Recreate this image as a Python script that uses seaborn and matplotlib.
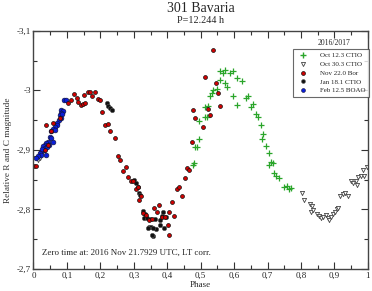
import matplotlib
matplotlib.use("Agg")
import matplotlib.pyplot as plt
from matplotlib.lines import Line2D
from matplotlib.ticker import FuncFormatter, MultipleLocator
import seaborn as sns
import pandas as pd

# phase / relative magnitude
oct12_phase = [0.476, 0.481, 0.483, 0.490, 0.496, 0.496, 0.513, 0.518, 0.513, 0.521,
               0.528, 0.533, 0.538, 0.548, 0.558, 0.558, 0.566, 0.573, 0.573, 0.580,
               0.588, 0.596, 0.596, 0.610, 0.610, 0.625, 0.635, 0.642, 0.649, 0.657,
               0.665, 0.672, 0.681, 0.687, 0.682, 0.695, 0.703, 0.710, 0.717, 0.705,
               0.719, 0.726, 0.734, 0.750, 0.758, 0.764, 0.771]
oct12_mag = [-2.875, -2.878, -2.905, -2.905, -2.918, -2.949, -2.972, -2.955, -2.956, -2.973,
             -2.990, -2.996, -3.000, -3.002, -3.018, -3.032, -3.030, -3.034, -3.012, -3.005,
             -3.029, -3.032, -2.990, -3.020, -2.976, -3.015, -2.987, -2.990, -2.972, -2.977,
             -2.960, -2.955, -2.942, -2.927, -2.918, -2.906, -2.895, -2.879, -2.878, -2.874,
             -2.861, -2.856, -2.852, -2.838, -2.840, -2.834, -2.836]

oct30_phase = [0.008, 0.013, 0.019, 0.802, 0.810, 0.827, 0.832, 0.829, 0.836, 0.847,
               0.854, 0.860, 0.865, 0.874, 0.880, 0.884, 0.889, 0.896, 0.901, 0.908,
               0.911, 0.918, 0.926, 0.931, 0.941, 0.949, 0.956, 0.964, 0.966, 0.971,
               0.978, 0.988, 0.986, 0.996]
oct30_mag = [-2.887, -2.883, -2.887, -2.828, -2.815, -2.809, -2.805, -2.796, -2.799, -2.792,
             -2.789, -2.785, -2.788, -2.790, -2.785, -2.782, -2.788, -2.792, -2.796, -2.800,
             -2.802, -2.822, -2.826, -2.827, -2.823, -2.847, -2.844, -2.847, -2.841, -2.855,
             -2.856, -2.856, -2.866, -2.871]

nov22_phase = [0.002, 0.007, 0.036, 0.044, 0.034, 0.052, 0.059, 0.078, 0.104, 0.112,
               0.122, 0.129, 0.134, 0.142, 0.149, 0.154, 0.152, 0.162, 0.169, 0.176,
               0.184, 0.192, 0.199, 0.206, 0.214, 0.222, 0.230, 0.244, 0.252, 0.260,
               0.276, 0.268, 0.283, 0.291, 0.298, 0.306, 0.313, 0.321, 0.315, 0.328,
               0.336, 0.346, 0.353, 0.361, 0.374, 0.368, 0.383, 0.393, 0.406, 0.413,
               0.420, 0.401, 0.406, 0.430, 0.436, 0.443, 0.452, 0.458, 0.466, 0.475,
               0.482, 0.476, 0.506, 0.523, 0.528, 0.513, 0.545, 0.551, 0.559, 0.536]
nov22_mag = [-2.873, -2.873, -2.942, -2.908, -2.900, -2.931, -2.945, -2.953, -2.979, -2.984,
             -2.994, -2.987, -2.980, -2.976, -2.977, -2.978, -2.992, -2.997, -2.998, -2.991,
             -2.998, -2.985, -2.983, -2.964, -2.942, -2.943, -2.932, -2.920, -2.890, -2.883,
             -2.871, -2.864, -2.855, -2.848, -2.847, -2.834, -2.837, -2.823, -2.815, -2.794,
             -2.791, -2.782, -2.784, -2.802, -2.808, -2.795, -2.788, -2.788, -2.796, -2.813,
             -2.789, -2.774, -2.757, -2.835, -2.837, -2.822, -2.852, -2.869, -2.866, -2.913,
             -2.954, -2.967, -2.939, -2.968, -2.958, -3.022, -3.013, -2.995, -2.974, -3.067]

jan18_phase = [0.219, 0.224, 0.230, 0.236, 0.300, 0.306, 0.312, 0.316, 0.320, 0.326,
               0.333, 0.331, 0.338, 0.345, 0.350, 0.343, 0.358, 0.366, 0.378, 0.383,
               0.388, 0.396, 0.378, 0.391, 0.348, 0.363, 0.358, 0.353]
jan18_mag = [-2.978, -2.974, -2.971, -2.967, -2.850, -2.844, -2.837, -2.827, -2.824, -2.798,
             -2.792, -2.785, -2.785, -2.770, -2.771, -2.768, -2.756, -2.767, -2.774, -2.789,
             -2.795, -2.787, -2.782, -2.768, -2.784, -2.784, -2.768, -2.757]

feb12_phase = [0.091, 0.097, 0.083, 0.088, 0.081, 0.078, 0.086, 0.083, 0.075, 0.071,
               0.070, 0.063, 0.058, 0.053, 0.063, 0.048, 0.051, 0.043, 0.038, 0.033,
               0.028, 0.035, 0.031, 0.023, 0.019, 0.022, 0.013, 0.038, 0.058, 0.045,
               0.025, 0.007, 0.040]
feb12_mag = [-2.983, -2.984, -2.967, -2.966, -2.962, -2.959, -2.960, -2.953, -2.950, -2.945,
             -2.942, -2.939, -2.935, -2.931, -2.934, -2.922, -2.920, -2.914, -2.911, -2.908,
             -2.906, -2.903, -2.900, -2.897, -2.894, -2.892, -2.889, -2.892, -2.914, -2.908,
             -2.902, -2.887, -2.905]

sns.set_style("ticks")
plt.rcParams['font.family'] = ['Liberation Serif', 'DejaVu Serif']

green = '#2aa52a'
red = '#d00000'
blue = '#0a1ed8'

fig = plt.figure(figsize=(3.72, 2.91), dpi=100)
ax = fig.add_axes([0.090, 0.076, 0.899, 0.818])

sns.scatterplot(x=oct30_phase, y=oct30_mag, marker='v', s=9, color='white',
                edgecolor='#444444', linewidth=0.6, ax=ax)
sns.scatterplot(x=oct12_phase, y=oct12_mag, marker='+', s=14, color=green,
                linewidth=0.9, ax=ax)
sns.scatterplot(x=feb12_phase, y=feb12_mag, marker='o', s=12, color=blue,
                edgecolor='#111133', linewidth=0.4, ax=ax)
sns.scatterplot(x=jan18_phase, y=jan18_mag, marker='o', s=10, color='#111111',
                edgecolor='#555555', linewidth=0.4, ax=ax)
sns.scatterplot(x=nov22_phase, y=nov22_mag, marker='o', s=8, color=red,
                edgecolor='#111111', linewidth=0.5, ax=ax)

ax.set_xlim(0, 1)
ax.set_ylim(-2.7, -3.1)
ax.xaxis.set_major_locator(MultipleLocator(0.1))
ax.xaxis.set_minor_locator(MultipleLocator(0.05))
ax.yaxis.set_major_locator(MultipleLocator(0.1))
ax.yaxis.set_minor_locator(MultipleLocator(0.05))

def comma(v, pos):
    s = ('%.1f' % v).replace('.', ',')
    if s.endswith(',0'):
        s = s[:-2]
    if s == '-0':
        s = '0'
    return s

ax.xaxis.set_major_formatter(FuncFormatter(comma))
ax.yaxis.set_major_formatter(FuncFormatter(comma))
ax.tick_params(which='both', direction='in', top=True, right=True, labelsize=6.5,
               color='#333333', width=0.8, pad=2)
ax.tick_params(which='major', length=5)
ax.tick_params(which='minor', length=3)
for sp in ax.spines.values():
    sp.set_color('#444444')
    sp.set_linewidth(1.0)

ax.set_xlabel('Phase', fontsize=6.5, labelpad=1)
ax.set_ylabel('Relative R and C magnitude', fontsize=6.7, labelpad=3, color='#333333')

fig.text(0.54, 0.972, '301 Bavaria', ha='center', va='center', fontsize=10)
fig.text(0.54, 0.928, 'P=12.244 h', ha='center', va='center', fontsize=7.3)
ax.text(0.025, 0.067, 'Zero time at: 2016 Nov 21.7929 UTC, LT corr.',
        transform=ax.transAxes, fontsize=6.5, va='center', ha='left')

handles = [
    Line2D([], [], ls='', marker='+', color=green, ms=4.0, mew=1.0),
    Line2D([], [], ls='', marker='v', mfc='white', mec='#444444', ms=3.0, mew=0.6),
    Line2D([], [], ls='', marker='o', mfc=red, mec='#111111', ms=2.8, mew=0.5),
    Line2D([], [], ls='', marker='o', mfc='#111111', mec='#555555', ms=2.8, mew=0.4),
    Line2D([], [], ls='', marker='o', mfc=blue, mec='#111133', ms=2.8, mew=0.4),
]
labels = ['Oct 12.3 CTIO', 'Oct 30.3 CTIO', 'Nov 22.0 Bor', 'Jan 18.1 CTIO', 'Feb 12.5 BOAO']
leg = ax.legend(handles, labels, loc='upper right', bbox_to_anchor=(1.003, 0.925),
                fontsize=5, frameon=True, fancybox=False, handlelength=1.8,
                handletextpad=1.5, borderpad=0.55, labelspacing=0.42, borderaxespad=0)
leg.get_frame().set_edgecolor('#444444')
leg.get_frame().set_linewidth(0.8)
ax.text(0.90, 0.95, '2016/2017', transform=ax.transAxes, fontsize=5.5,
        ha='center', va='center')

fig.savefig('out.png', dpi=100)
